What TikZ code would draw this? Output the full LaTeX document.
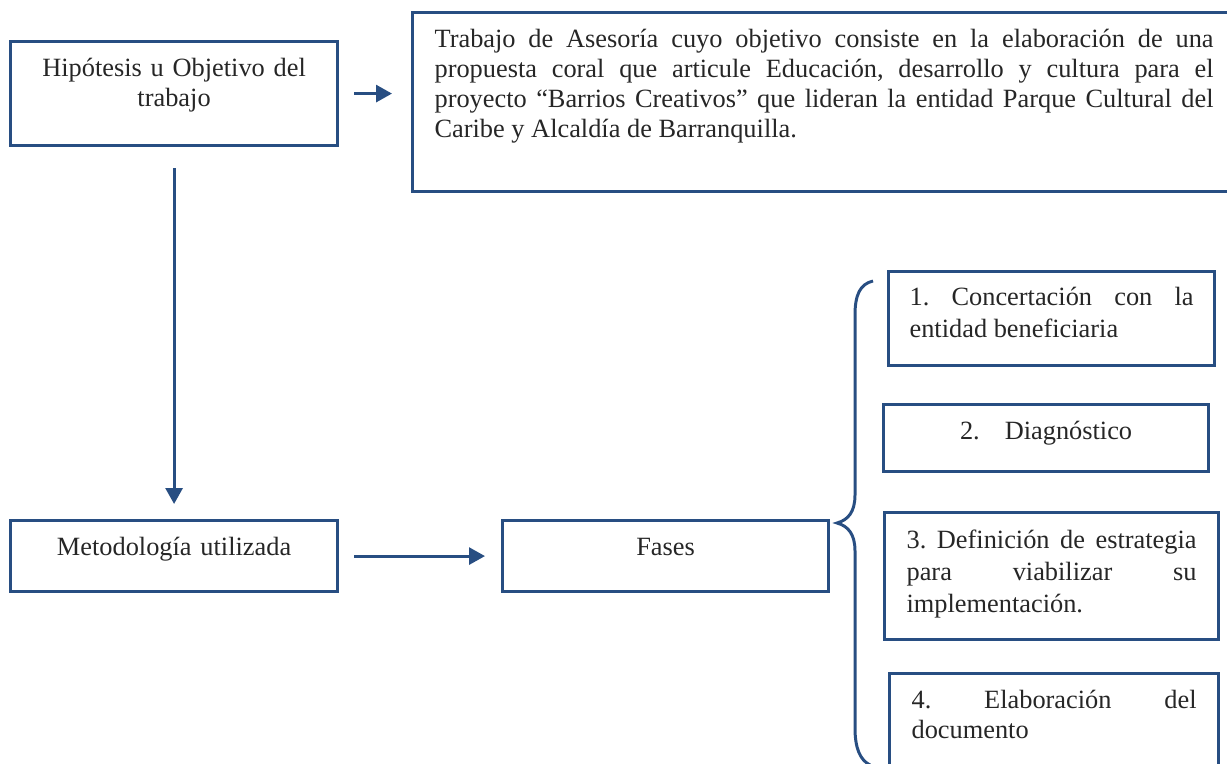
\documentclass[tikz,border=0pt]{standalone}
\usepackage{fontspec}
\setmainfont{Liberation Serif}
\usetikzlibrary{arrows.meta}
\definecolor{azulcaja}{RGB}{40,78,130}
\hyphenpenalty=10000
\frenchspacing

\begin{document}
\begin{tikzpicture}[
  caja/.style={draw=azulcaja, line width=1.8pt, anchor=north west, inner ysep=0pt,
    text=black!85, font=\fontsize{15}{17.1}\selectfont},
  flecha/.style={draw=azulcaja, line width=1.7pt, -{Triangle[length=0.32cm,width=0.34cm]}},
  llave/.style={draw=azulcaja, line width=1.7pt}
]
\useasboundingbox (0,0) rectangle (24.54,15.26);

% columna izquierda
\node[caja, inner xsep=0.3cm, text width=5.94cm, align=center, text height=0.70cm, text depth=1.38cm] (hipotesis) at (0.18,14.46) {Hipótesis u Objetivo del\\trabajo};
\node[caja, inner xsep=0.3cm, text width=5.94cm, align=center, text height=0.70cm, text depth=0.72cm] (metodo) at (0.18,4.88) {Metodología utilizada};
\node[caja, inner xsep=0.3cm, text width=5.92cm, align=center, text height=0.70cm, text depth=0.72cm] (fases) at (10.02,4.88) {Fases};

% objetivo
\node[caja, inner xsep=0.44cm, text width=15.58cm, align=justify, text height=0.70cm, text depth=2.88cm] (trabajo) at (8.22,15.04) {Trabajo de Asesoría cuyo objetivo consiste en la elaboración de una\linebreak propuesta coral que articule Educación, desarrollo y cultura para el\linebreak proyecto “Barrios Creativos” que lideran la entidad Parque Cultural del\linebreak Caribe y Alcaldía de Barranquilla.};

% fases
\node[caja, inner xsep=0.42cm, text width=5.68cm, align=justify, text height=0.68cm, text depth=1.20cm, font=\fontsize{15}{18.2}\selectfont] (fase1) at (17.74,9.86) {1. Concertación con la\linebreak entidad beneficiaria};
\node[caja, inner xsep=0.3cm, text width=5.90cm, align=center, text height=0.70cm, text depth=0.64cm] (fase2) at (17.64,7.20) {2.\hspace{0.5cm}Diagnóstico};
\node[caja, inner xsep=0.44cm, text width=5.80cm, align=justify, text height=0.72cm, text depth=1.82cm, font=\fontsize{15}{18.2}\selectfont] (fase3) at (17.66,5.04) {3. Definición de estrategia\linebreak para viabilizar su\linebreak implementación.};
\node[caja, inner xsep=0.44cm, text width=5.70cm, align=justify, text height=0.70cm, text depth=1.46cm] (fase4) at (17.76,1.82) {4. Elaboración del\linebreak documento};

% flechas
\draw[flecha, shorten <=0.30cm, shorten >=0.38cm] (hipotesis.east) -- (hipotesis.east -| trabajo.west);
\draw[flecha, shorten <=0.42cm, shorten >=0.30cm] (hipotesis.south) -- (metodo.north);
\draw[flecha, shorten <=0.30cm, shorten >=0.32cm] (metodo.east) -- (fases.west);

% llave
\draw[llave] (17.46,9.64) .. controls (17.20,9.58) and (17.10,9.36) .. (17.10,8.96)
  -- (17.10,5.36) .. controls (17.10,5.02) and (16.96,4.86) .. (16.74,4.80)
  .. controls (16.96,4.74) and (17.10,4.58) .. (17.10,4.24)
  -- (17.10,0.70) .. controls (17.10,0.30) and (17.20,0.06) .. (17.40,-0.04);

\end{tikzpicture}
\end{document}
